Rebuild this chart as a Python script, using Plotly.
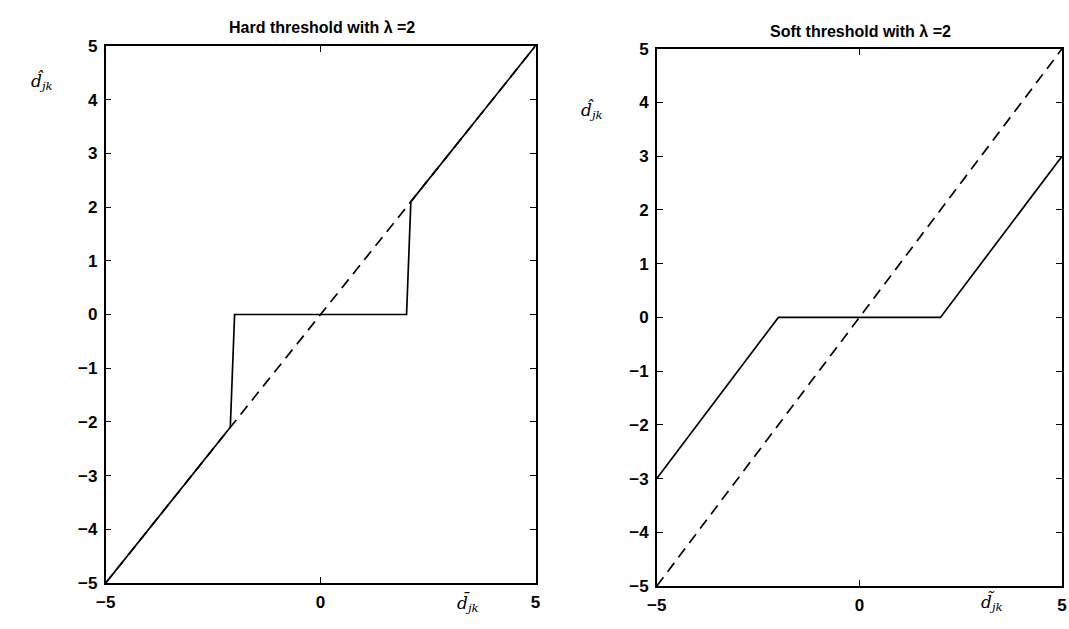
import plotly.graph_objects as go

W, H = 1069, 629

# Hard thresholding of the empirical coefficient (lambda = 2), sampled on a 0.1 grid
hard_x = [-5.0, -2.1, -2.0, 2.0, 2.1, 5.0]
hard_y = [-5.0, -2.1, 0.0, 0.0, 2.1, 5.0]

# Soft thresholding (lambda = 2)
soft_x = [-5.0, -2.0, 2.0, 5.0]
soft_y = [-3.0, 0.0, 0.0, 3.0]

# Identity reference line
diag_x = [-5.0, 5.0]
diag_y = [-5.0, 5.0]

x_ticks = [-5, 0, 5]
y_ticks = [-5, -4, -3, -2, -1, 0, 1, 2, 3, 4, 5]

FONT = "Liberation Sans, Arial, sans-serif"
SERIF = "DejaVu Serif, Liberation Serif, serif"

line_solid = dict(color="black", width=1.7)
line_dash = dict(color="black", width=1.7, dash="11px,7px")

fig = go.Figure()
fig.add_trace(go.Scatter(x=diag_x, y=diag_y, mode="lines", line=line_dash,
                         xaxis="x", yaxis="y", showlegend=False))
fig.add_trace(go.Scatter(x=hard_x, y=hard_y, mode="lines", line=line_solid,
                         xaxis="x", yaxis="y", showlegend=False))
fig.add_trace(go.Scatter(x=diag_x, y=diag_y, mode="lines", line=line_dash,
                         xaxis="x2", yaxis="y2", showlegend=False))
fig.add_trace(go.Scatter(x=soft_x, y=soft_y, mode="lines", line=line_solid,
                         xaxis="x2", yaxis="y2", showlegend=False))


def px_x(a, b):
    return [a / W, b / W]


def px_y(top, bottom):
    return [(H - bottom) / H, (H - top) / H]


axis_common = dict(
    showline=True, linecolor="black", linewidth=1.5, mirror="allticks",
    ticks="inside", ticklen=6, tickwidth=1.3, tickcolor="black",
    showgrid=False, zeroline=False, ticklabelstandoff=3,
    tickfont=dict(family=FONT, size=17, color="black", weight="bold"),
    range=[-5, 5],
)

fig.update_layout(
    width=W, height=H,
    margin=dict(l=0, r=0, t=0, b=0),
    paper_bgcolor="white", plot_bgcolor="white",
    xaxis=dict(**axis_common, domain=px_x(97, 533), tickvals=x_ticks, anchor="y"),
    yaxis=dict(**axis_common, domain=px_y(38, 592), tickvals=y_ticks, anchor="x"),
    xaxis2=dict(**axis_common, domain=px_x(656, 1067), tickvals=x_ticks, anchor="y2"),
    yaxis2=dict(**axis_common, domain=px_y(41, 595), tickvals=y_ticks, anchor="x2"),
)

annotations = [
    # titles
    dict(text="Hard threshold with λ =2", x=316 / W, y=1 - 19 / H,
         font=dict(family=FONT, size=16, color="black", weight="bold")),
    dict(text="Soft threshold with λ =2", x=863 / W, y=1 - 23 / H,
         font=dict(family=FONT, size=16, color="black", weight="bold")),
    # y-axis labels
    dict(text="<i>d̂</i><sub><i>jk</i></sub>", x=32 / W, y=1 - 75 / H,
         font=dict(family=SERIF, size=17, color="black")),
    dict(text="<i>d̂</i><sub><i>jk</i></sub>", x=590 / W, y=1 - 105 / H,
         font=dict(family=SERIF, size=17, color="black")),
    # x-axis labels
    dict(text="<i>d̄</i><sub><i>jk</i></sub>", x=465 / W, y=1 - 612 / H,
         font=dict(family=SERIF, size=17, color="black")),
    dict(text="<i>d̃</i><sub><i>jk</i></sub>", x=996 / W, y=1 - 612 / H,
         font=dict(family=SERIF, size=17, color="black")),
]
for a in annotations:
    a.update(xref="paper", yref="paper", showarrow=False,
             xanchor="center", yanchor="middle")
fig.update_layout(annotations=annotations)

fig.write_html("out.html")
